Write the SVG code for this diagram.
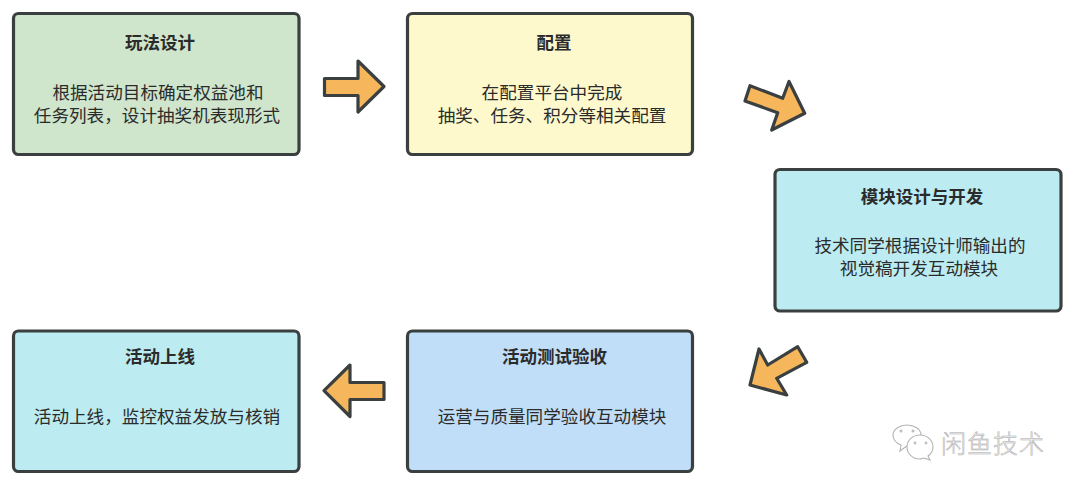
<svg xmlns="http://www.w3.org/2000/svg" width="1080" height="491" viewBox="0 0 1080 491">
<style>
text{font-family:"Noto Sans CJK SC","Liberation Sans",sans-serif;text-anchor:middle;fill:#2b2b2b}
.b{stroke:#3a3f3f;stroke-width:3.200;}
.t{font-size:17.500px;font-weight:700}
.d{font-size:17.600px}
.a{fill:#f5b65c;stroke:#3a3f3f;stroke-width:3.200;stroke-linejoin:round}
.wm{fill:none;stroke:#b4b4b4;stroke-width:1.100}
.dot{fill:#bdbdbd}
.wt{font-size:25px;font-weight:300;fill:#f4f4f4;stroke:#a8a8a8;stroke-width:.5;letter-spacing:1px}
</style>
<rect width="1080" height="491" fill="#fff"/>
<g id="n1"><rect class="b" x="13.500" y="13.500" width="285.500" height="141" rx="5" fill="#cfe5cc"/><text class="t" x="160" y="49">玩法设计</text><text class="d" x="158" y="98.500">根据活动目标确定权益池和</text><text class="d" x="157" y="121.500">任务列表，设计抽奖机表现形式</text></g>
<g id="n2"><rect class="b" x="407.500" y="13.500" width="285" height="141" rx="5" fill="#fdf9cc"/><text class="t" x="554" y="49">配置</text><text class="d" x="552" y="98.500">在配置平台中完成</text><text class="d" x="552" y="121.500">抽奖、任务、积分等相关配置</text></g>
<g id="n3"><rect class="b" x="775" y="169.500" width="286" height="141.500" rx="5" fill="#bcecf1"/><text class="t" x="922" y="202.500">模块设计与开发</text><text class="d" x="920" y="252">技术同学根据设计师输出的</text><text class="d" x="919" y="275">视觉稿开发互动模块</text></g>
<g id="n4"><rect class="b" x="407.500" y="331" width="285" height="140.500" rx="5" fill="#c1def8"/><text class="t" x="554.500" y="362.500">活动测试验收</text><text class="d" x="552" y="423">运营与质量同学验收互动模块</text></g>
<g id="n5"><rect class="b" x="13.500" y="331" width="285.500" height="140.500" rx="5" fill="#bcecf1"/><text class="t" x="160" y="362.500">活动上线</text><text class="d" x="157" y="423">活动上线，监控权益发放与核销</text></g>
<g id="connectors">
<polygon class="a" points="324.500,78.500 358,78.500 358,61 384,86.500 358,112 358,95.500 324.500,95.500"/>
<polygon class="a" points="750,85.700 782.700,98.300 789,81.500 804.700,113.300 771.700,130 777.700,112.700 745,101"/>
<polygon class="a" points="797.700,346.700 806.700,362.300 776.700,378.300 786.700,395 750,385 759,349 767.700,365"/>
<polygon class="a" points="384,382.500 350,382.500 350,365 324,390.700 350,416.500 350,399.500 384,399.500"/>
</g>
<g id="watermark">
<path class="wm" d="M907 446c-3 2-5 3-7 5l1-6c-5-2-8-6-8-10 0-6 7-10 14-10s14 4 14 10"/>
<path class="wm" d="M907 447c0-7 6-12 13-12s13 5 13 12c0 4-2 7-5 9l2 4-6-2c-1 0-3 1-4 1-7 0-13-5-13-12z"/>
<circle class="dot" cx="901" cy="431" r="1.500"/><circle class="dot" cx="913" cy="431" r="1.500"/><circle class="dot" cx="915" cy="443" r="1.400"/><circle class="dot" cx="926" cy="443" r="1.400"/>
<text class="wt" x="993" y="453">闲鱼技术</text>
</g>
</svg>
